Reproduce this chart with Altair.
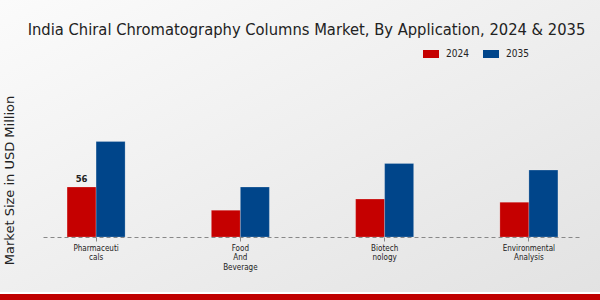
import altair as alt
import pandas as pd

title_text = "India Chiral Chromatography Columns Market, By Application, 2024 & 2035"
categories = ["Pharmaceuticals", "Food And Beverage", "Biotechnology", "Environmental Analysis"]
label_lines = ["Pharmaceuti\ncals", "Food\nAnd\nBeverage", "Biotech\nnology", "Environmental\nAnalysis"]
years = ["2024", "2035"]
values_2024 = [56, 30, 42.5, 39]
values_2035 = [107, 56, 82.5, 75]

rows = []
for c, v in zip(categories, values_2024):
    rows.append({"Application": c, "Year": "2024", "Value": v, "Label": "56" if c == "Pharmaceuticals" else ""})
for c, v in zip(categories, values_2035):
    rows.append({"Application": c, "Year": "2035", "Value": v, "Label": ""})
df = pd.DataFrame(rows)

label_map = {c: l for c, l in zip(categories, label_lines)}
label_expr = "split(" + " : ".join(
    [f"datum.value == '{c}' ? '{label_map[c]}'".replace("\n", "\\n") for c in categories]
) + " : datum.value, '\\n')"

narrow = "DejaVu Sans Condensed, Liberation Sans Narrow, sans-serif"

x_enc = alt.X("Application:N", sort=categories,
              scale=alt.Scale(paddingInner=0.264, paddingOuter=0),
              axis=alt.Axis(title=None, labelAngle=0, labelExpr=label_expr,
                            labelFont=narrow, labelFontSize=8, labelColor="#222",
                            labelPadding=3, labelLineHeight=9.5, zindex=1,
                            domainColor="#888", domainDash=[4, 3], domainWidth=1,
                            tickColor="#888", tickSize=4, grid=False))
y_enc = alt.Y("Value:Q", scale=alt.Scale(domain=[0, 176], nice=False),
              axis=alt.Axis(title="Market Size in USD Million", labels=False, ticks=False,
                            domain=False, grid=False, titleFont="DejaVu Sans", zindex=1,
                            titleFontSize=13, titleFontWeight="normal", titleColor="#222",
                            titleX=-34, titleY=100, titleBaseline="middle", titleAlign="center"))

background = alt.Chart(pd.DataFrame({"a": [0]})).mark_rect(
    color=alt.Gradient(gradient="linear",
                       stops=[alt.GradientStop(color="#fbfbfb", offset=0),
                              alt.GradientStop(color="#e2e2e2", offset=1)],
                       x1=0, y1=0, x2=1, y2=1)
).encode(x=alt.value(-43), x2=alt.value(557), y=alt.value(-80), y2=alt.value(220))

bottom_line = alt.Chart(pd.DataFrame({"a": [0]})).mark_rect(color="#ffffff").encode(
    x=alt.value(-43), x2=alt.value(557), y=alt.value(212), y2=alt.value(214))
bottom_bar = alt.Chart(pd.DataFrame({"a": [0]})).mark_rect(color="#c00000").encode(
    x=alt.value(-43), x2=alt.value(557), y=alt.value(214), y2=alt.value(220))

title = alt.Chart(pd.DataFrame({"t": [title_text]})).mark_text(
    font=narrow, fontSize=16.4, color="#222", align="center", baseline="alphabetic"
).encode(x=alt.value(263.5), y=alt.value(-45.5), text="t:N")

bars = alt.Chart(df).mark_bar(stroke="#ffffff", strokeOpacity=0.35, strokeWidth=0.6).encode(
    x=x_enc,
    xOffset=alt.XOffset("Year:N", sort=years, scale=alt.Scale(paddingOuter=0.83, paddingInner=0)),
    y=y_enc,
    color=alt.Color("Year:N", sort=years,
                    scale=alt.Scale(domain=years, range=["#c50000", "#00458a"]),
                    legend=alt.Legend(title=None, orient="none", legendX=380, legendY=-34,
                                      direction="horizontal", symbolType="M-1,-0.5H1V0.5H-1Z",
                                      symbolSize=256, symbolStrokeWidth=0,
                                      labelFont=narrow, labelFontSize=10, labelColor="#222",
                                      columnPadding=14, labelOffset=7)),
)

labels = alt.Chart(df).mark_text(dy=-3, fontSize=8.5, fontWeight="bold", font="DejaVu Sans",
                                 color="#222", baseline="bottom").encode(
    x=alt.X("Application:N", sort=categories),
    xOffset=alt.XOffset("Year:N", sort=years),
    y=alt.Y("Value:Q"),
    text="Label:N",
)

chart = alt.layer(background, bottom_line, bottom_bar, title, bars, labels).properties(
    width=539, height=157,
    autosize=alt.AutoSizeParams(type="none"),
    padding={"left": 43, "top": 80, "right": 18, "bottom": 63},
).configure_view(stroke=None).configure(background="#eeeeee")

chart.save("out.html", embed_options={"renderer": "svg", "actions": False})
